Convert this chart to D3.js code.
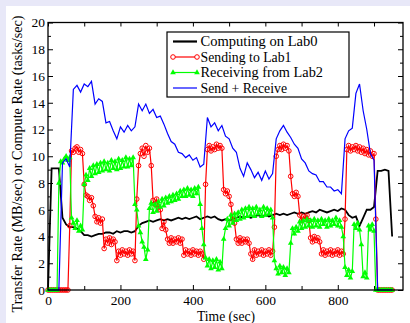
<!DOCTYPE html>
<html>
<head>
<meta charset="utf-8">
<script src="https://cdn.jsdelivr.net/npm/d3@7"></script>
<style>
  body { margin: 0; background: #e8e8f8; }
  svg { display: block; }
</style>
</head>
<body>
<svg id="chart" width="410" height="323"></svg>
<script>
// sample times for the compute and total series (sec)
const times = [
  0, 10, 20, 30, 40, 50, 60, 70, 80, 90,
  100, 110, 120, 130, 140, 150, 160, 170, 180, 190,
  200, 210, 220, 230, 240, 250, 260, 270, 280, 290,
  300, 310, 320, 330, 340, 350, 360, 370, 380, 390,
  400, 410, 420, 430, 440, 450, 460, 470, 480, 490,
  500, 510, 520, 530, 540, 550, 560, 570, 580, 590,
  600, 610, 620, 630, 640, 650, 660, 670, 680, 690,
  700, 710, 720, 730, 740, 750, 760, 770, 780, 790,
  800, 810, 820, 830, 840, 850, 860, 870, 880, 890,
  900, 910, 920, 930, 940, 950
];

// finer sample times for the send / receive series (sec)
const timesFine = [
  0, 5, 10, 15, 20, 25, 30, 35, 40, 45,
  50, 55, 60, 65, 70, 75, 80, 85, 90, 95,
  100, 105, 110, 115, 120, 125, 130, 135, 140, 145,
  150, 155, 160, 165, 170, 175, 180, 185, 190, 195,
  200, 205, 210, 215, 220, 225, 230, 235, 240, 245,
  250, 255, 260, 265, 270, 275, 280, 285, 290, 295,
  300, 305, 310, 315, 320, 325, 330, 335, 340, 345,
  350, 355, 360, 365, 370, 375, 380, 385, 390, 395,
  400, 405, 410, 415, 420, 425, 430, 435, 440, 445,
  450, 455, 460, 465, 470, 475, 480, 485, 490, 495,
  500, 505, 510, 515, 520, 525, 530, 535, 540, 545,
  550, 555, 560, 565, 570, 575, 580, 585, 590, 595,
  600, 605, 610, 615, 620, 625, 630, 635, 640, 645,
  650, 655, 660, 665, 670, 675, 680, 685, 690, 695,
  700, 705, 710, 715, 720, 725, 730, 735, 740, 745,
  750, 755, 760, 765, 770, 775, 780, 785, 790, 795,
  800, 805, 810, 815, 820, 825, 830, 835, 840, 845,
  850, 855, 860, 865, 870, 875, 880, 885, 890, 895,
  900, 905, 910, 915, 920, 925, 930, 935, 940, 945,
  950
];

// Computing on Lab0 (tasks/sec)
const computeLab0 = [
  0, 9.1, 9.1, 9.1, 5.4, 4.9, 4.7, 4.7, 4.6, 4.4,
  4.1, 4.1, 4.0, 4.1, 4.2, 4.2, 4.3, 4.3, 4.2, 4.4,
  4.3, 4.4, 4.4, 4.3, 4.4, 4.8, 5.0, 5.1, 5.2, 5.1,
  5.2, 5.3, 5.2, 5.3, 5.2, 5.3, 5.4, 5.3, 5.4, 5.3,
  5.4, 5.5, 5.3, 5.4, 5.5, 5.4, 5.5, 5.3, 5.2, 5.3,
  5.2, 5.3, 5.4, 5.5, 5.4, 5.5, 5.4, 5.5, 5.6, 5.5,
  5.6, 5.5, 5.6, 5.7, 5.6, 5.7, 5.6, 5.7, 5.8, 5.7,
  5.8, 5.7, 5.8, 5.9, 5.8, 6.0, 5.9, 5.8, 5.9, 6.0,
  5.9, 6.1, 6.0, 5.6, 5.4, 5.5, 4.8, 5.4, 6.0, 6.0,
  6.2, 8.9, 8.9, 9.0, 8.9, 4.0
];

// Send + Receive (MB/sec)
const sendPlusRecv = [
  0, 0, 0, 0, 9.5, 9.8, 9.2, 15.0, 15.3, 14.8,
  15.4, 15.2, 15.6, 13.9, 14.3, 14.1, 12.5, 12.6, 11.9, 11.3,
  12.2, 11.8, 12.3, 11.9, 12.2, 13.9, 13.4, 13.9, 13.2, 13.5,
  12.9, 13.0, 12.4, 11.7, 11.1, 10.9, 10.3, 10.2, 9.9, 10.1,
  9.7, 9.9, 9.2, 9.4, 12.9, 12.2, 12.5, 11.9, 12.3, 11.5,
  11.3, 10.6, 10.3, 9.1, 8.5, 9.5, 9.0, 8.4, 8.8, 8.2,
  8.9, 8.3, 8.7, 11.3, 11.9, 12.3, 11.8, 11.4, 10.9, 10.6,
  9.8, 9.5, 8.9, 8.7, 8.6, 8.1, 8.1, 7.7, 7.7, 7.4,
  7.5, 7.2, 11.3, 11.9, 12.1, 14.7, 15.4, 13.4, 12.0, 10.2,
  9.7, 0, 0, 0, 0, 0
];

// Sending to Lab1 (MB/sec), on timesFine
const sendLab1 = [
  0, 0, 0, 0, 0, 0, 0, 0, 0, 0,
  0, 0, 4.8, 10.4, 10.3, 10.6, 10.7, 10.3, 10.5, 10.2,
  7.9, 7.1, 7.0, 6.7, 6.9, 6.3, 5.5, 5.1, 5.4, 5.0,
  5.3, 3.1, 3.8, 3.5, 3.9, 3.4, 3.8, 3.6, 2.2, 2.9,
  2.6, 3.0, 2.7, 2.9, 2.6, 3.0, 2.7, 2.9, 2.2, 6.8,
  9.3, 10.2, 10.6, 10.0, 10.8, 10.3, 10.6, 9.3, 6.7, 6.4,
  6.8, 6.2, 6.0, 4.6, 5.1, 4.5, 3.8, 3.5, 3.9, 3.5,
  3.8, 3.6, 3.9, 3.5, 3.8, 2.6, 3.0, 2.7, 2.9, 2.6,
  3.0, 2.7, 2.9, 2.6, 2.9, 2.7, 2.3, 7.9, 10.5, 10.8,
  10.4, 10.7, 10.5, 10.9, 10.6, 10.8, 10.6, 7.5, 7.2, 7.4,
  7.0, 6.4, 5.3, 5.0, 3.8, 3.5, 3.9, 3.5, 3.8, 3.6,
  3.8, 3.5, 2.7, 2.3, 3.0, 2.6, 2.9, 2.7, 3.0, 2.6,
  2.9, 2.7, 3.0, 2.6, 2.9, 4.7, 10.0, 10.5, 10.8, 10.5,
  10.9, 10.6, 10.8, 10.4, 8.5, 7.2, 7.0, 7.3, 7.0, 5.6,
  5.2, 5.5, 5.3, 5.6, 5.2, 3.9, 3.6, 4.0, 3.7, 3.9,
  3.6, 2.7, 3.0, 2.6, 2.9, 2.7, 3.0, 2.6, 2.9, 2.7,
  3.0, 2.6, 2.9, 2.7, 5.3, 10.5, 10.8, 10.4, 10.7, 10.5,
  10.8, 10.4, 10.7, 10.3, 10.6, 10.2, 10.5, 10.1, 10.4, 10.0,
  10.2, 5.3, 0, 0, 0, 0, 0, 0, 0, 0,
  0
];

// Receiving from Lab2 (MB/sec), on timesFine
const recvLab2 = [
  0, 0, 0, 0, 0, 0, 8.0, 9.6, 9.5, 9.8,
  10.0, 9.7, 9.9, 5.4, 5.0, 4.6, 5.2, 4.4, 4.8, 4.5,
  7.9, 8.6, 8.2, 9.1, 8.5, 9.3, 8.7, 9.4, 8.8, 9.5,
  8.9, 9.6, 9.0, 9.5, 8.9, 9.7, 9.1, 9.6, 9.0, 9.8,
  9.1, 9.7, 9.2, 9.9, 9.2, 9.8, 9.3, 9.9, 6.4, 6.0,
  4.8, 4.3, 3.6, 3.2, 2.3, 3.0, 6.1, 6.5, 5.8, 6.4,
  5.9, 6.6, 6.2, 6.8, 6.3, 6.9, 6.5, 7.0, 6.6, 7.1,
  6.7, 7.2, 6.8, 7.4, 7.0, 7.5, 7.0, 7.6, 7.1, 7.5,
  7.0, 7.6, 7.2, 7.7, 6.4, 4.6, 3.4, 2.4, 1.8, 2.3,
  1.6, 2.2, 1.7, 2.3, 1.5, 2.1, 1.6, 3.8, 4.6, 5.3,
  4.8, 5.6, 5.0, 5.7, 5.2, 5.8, 5.3, 6.0, 5.4, 6.1,
  5.5, 6.2, 5.6, 6.1, 5.5, 6.2, 5.7, 6.0, 5.5, 6.2,
  5.6, 6.1, 5.7, 6.0, 5.4, 2.2, 1.6, 1.2, 1.8, 1.3,
  1.7, 1.1, 1.6, 1.3, 3.5, 4.6, 4.2, 4.7, 4.4, 5.1,
  4.6, 5.2, 4.7, 5.3, 4.8, 5.2, 4.7, 5.3, 4.8, 5.2,
  4.7, 5.3, 4.9, 5.2, 4.7, 5.3, 4.8, 5.2, 4.9, 5.4,
  4.8, 5.2, 4.7, 4.0, 1.7, 1.1, 1.5, 0.9, 1.4, 4.9,
  4.6, 5.0, 4.5, 3.4, 1.0, 1.3, 0.9, 4.8, 4.5, 4.9,
  4.4, 0, 0, 0, 0, 0, 0, 0, 0, 0,
  0
];

const seriesNames = ['Computing on Lab0', 'Sending to Lab1', 'Receiving from Lab2', 'Send + Receive'];
const xMajorTicks = [0, 200, 400, 600, 800];
const xMinorTicks = [100, 300, 500, 700, 900];
const yMajorTicks = [0, 2, 4, 6, 8, 10, 12, 14, 16, 18, 20];
const yMinorTicks = [1, 3, 5, 7, 9, 11, 13, 15, 17, 19];

// pick a Times-like face that is actually installed
function hasFont(name) {
  const ctx = document.createElement('canvas').getContext('2d');
  const s = 'Receiving from Lab2 0123456789';
  ctx.font = '20px monospace';
  const base = ctx.measureText(s).width;
  ctx.font = `20px "${name}", monospace`;
  return ctx.measureText(s).width !== base;
}
const fontCandidates = ['Liberation Serif', 'Tinos', 'Times New Roman', 'Nimbus Roman', 'DejaVu Serif Condensed', 'DejaVu Serif'];
const FONT = `"${fontCandidates.find(hasFont) || 'serif'}", serif`;

const svg = d3.select('#chart').style('font-family', FONT);
const W = 410, H = 323;
const plot = { left: 48, right: 403, top: 22.5, bottom: 290 };

svg.append('rect').attr('x', 6).attr('y', 6).attr('width', W - 6).attr('height', H - 6).attr('fill', '#fff');

const x = d3.scaleLinear().domain([0, 980]).range([plot.left, plot.right]);
const y = d3.scaleLinear().domain([0, 20]).range([plot.bottom, plot.top]);

function styleAxis(g) {
  g.attr('font-family', null);
  g.select('.domain').remove();
  g.selectAll('line').attr('stroke', '#000').attr('stroke-width', 1);
  // Times digits are half an em wide
  g.selectAll('text').attr('font-size', 13.5).attr('fill', '#000')
    .each(function () {
      const n = this.textContent.length;
      if (n) d3.select(this).attr('textLength', n * 6.75).attr('lengthAdjust', 'spacingAndGlyphs');
    });
}

// axes, ticks pointing inward
svg.append('g').attr('transform', `translate(0,${plot.bottom})`)
  .call(d3.axisBottom(x).tickValues(xMajorTicks).tickSize(-5).tickPadding(5)).call(styleAxis);
svg.append('g').attr('transform', `translate(0,${plot.bottom})`)
  .call(d3.axisBottom(x).tickValues(xMinorTicks).tickSize(-4).tickFormat('')).call(styleAxis);
svg.append('g').attr('transform', `translate(0,${plot.top})`)
  .call(d3.axisTop(x).tickValues(xMajorTicks.concat(xMinorTicks)).tickSize(-4).tickFormat('')).call(styleAxis);

svg.append('g').attr('transform', `translate(${plot.left},0)`)
  .call(d3.axisLeft(y).tickValues(yMajorTicks).tickSize(-5).tickPadding(3)).call(styleAxis);
svg.append('g').attr('transform', `translate(${plot.left},0)`)
  .call(d3.axisLeft(y).tickValues(yMinorTicks).tickSize(-3).tickFormat('')).call(styleAxis);
svg.append('g').attr('transform', `translate(${plot.right},0)`)
  .call(d3.axisRight(y).tickValues(yMajorTicks).tickSize(-5).tickFormat('')).call(styleAxis);
svg.append('g').attr('transform', `translate(${plot.right},0)`)
  .call(d3.axisRight(y).tickValues(yMinorTicks).tickSize(-3).tickFormat('')).call(styleAxis);

const line = d3.line().x((d, i) => x(times[i])).y(d => y(d));
const lineFine = d3.line().x((d, i) => x(timesFine[i])).y(d => y(d));

const RED = '#ff0000', GREEN = '#00ff00', BLUE = '#0000ff';

// black compute line
svg.append('path').datum(computeLab0)
  .attr('d', line).attr('fill', 'none').attr('stroke', '#000').attr('stroke-width', 1.8);

// red sending line + open circles
svg.append('path').datum(sendLab1)
  .attr('d', lineFine).attr('fill', 'none').attr('stroke', RED).attr('stroke-width', 1.2);
svg.append('g').selectAll('circle').data(sendLab1).join('circle')
  .attr('cx', (d, i) => x(timesFine[i])).attr('cy', d => y(d)).attr('r', 2.3)
  .attr('fill', 'none').attr('stroke', RED).attr('stroke-width', 1);

// green receiving line + triangles
const tri = d3.symbol().type(d3.symbolTriangle).size(14);
svg.append('path').datum(recvLab2)
  .attr('d', lineFine).attr('fill', 'none').attr('stroke', GREEN).attr('stroke-width', 1.2);
svg.append('g').selectAll('path').data(recvLab2).join('path')
  .attr('d', tri).attr('transform', (d, i) => `translate(${x(timesFine[i])},${y(d)})`)
  .attr('fill', GREEN);

// blue total line
svg.append('path').datum(sendPlusRecv)
  .attr('d', line).attr('fill', 'none').attr('stroke', BLUE).attr('stroke-width', 1.2);

// frame
svg.append('rect').attr('x', plot.left).attr('y', plot.top)
  .attr('width', plot.right - plot.left).attr('height', plot.bottom - plot.top)
  .attr('fill', 'none').attr('stroke', '#000').attr('stroke-width', 1.3);

// legend
const lg = svg.append('g');
lg.append('rect').attr('x', 167).attr('y', 32).attr('width', 182).attr('height', 65)
  .attr('fill', '#fff').attr('stroke', '#000').attr('stroke-width', 1.2);
const colors = ['#000', RED, GREEN, BLUE];
const widths = [2.2, 1.2, 1.2, 1.2];
const textWidths = [117, 91, 122.5, 86.5];
seriesNames.forEach((name, i) => {
  const cy = 41.5 + i * 15.5;
  lg.append('line').attr('x1', 173).attr('x2', 197).attr('y1', cy).attr('y2', cy)
    .attr('stroke', colors[i]).attr('stroke-width', widths[i]);
  if (i === 1) {
    [173, 197].forEach(cx => lg.append('circle').attr('cx', cx).attr('cy', cy).attr('r', 2.3)
      .attr('fill', '#fff').attr('stroke', colors[i]).attr('stroke-width', 1));
  }
  if (i === 2) {
    [173, 197].forEach(cx => lg.append('path').attr('d', tri)
      .attr('transform', `translate(${cx},${cy})`).attr('fill', colors[i]));
  }
  lg.append('text').attr('x', 200.5).attr('y', cy + 4.5).attr('font-size', 13.7)
    .attr('textLength', textWidths[i]).attr('lengthAdjust', 'spacingAndGlyphs').text(name);
});

// axis titles
svg.append('text').attr('x', 226).attr('y', 320.5).attr('text-anchor', 'middle')
  .attr('font-size', 13.7).attr('textLength', 58).attr('lengthAdjust', 'spacingAndGlyphs')
  .text('Time (sec)');
svg.append('text').attr('transform', 'translate(21.5,164) rotate(-90)')
  .attr('text-anchor', 'middle').attr('font-size', 13.7)
  .attr('textLength', 297).attr('lengthAdjust', 'spacingAndGlyphs')
  .text('Transfer Rate (MB/sec) or Compute Rate (tasks/sec)');
</script>
</body>
</html>
